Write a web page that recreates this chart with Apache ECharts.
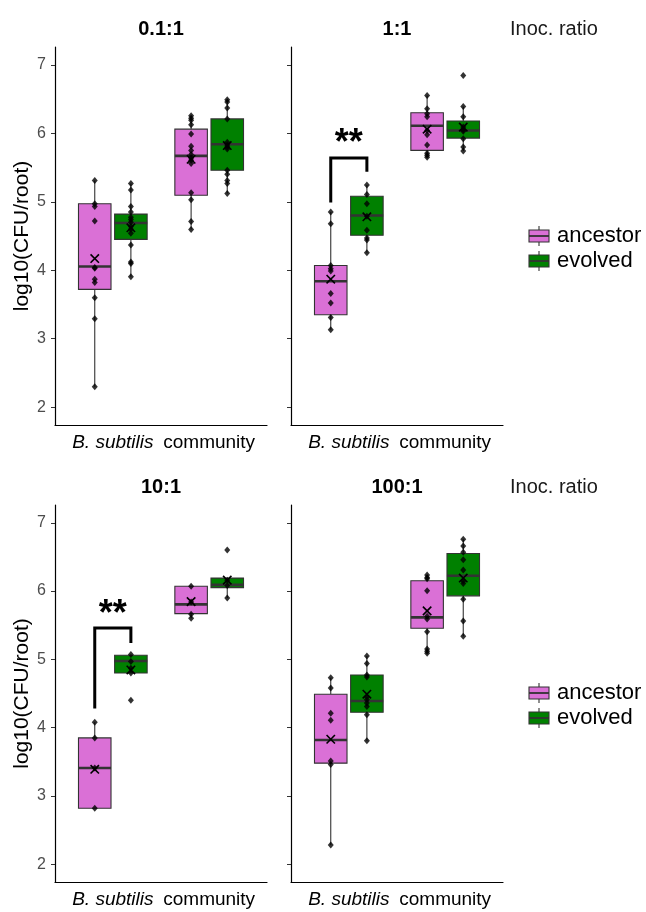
<!DOCTYPE html>
<html><head><meta charset="utf-8">
<script src="https://cdn.jsdelivr.net/npm/echarts@6/dist/echarts.min.js"></script>
<style>html,body{margin:0;padding:0;background:#fff}#c{width:646px;height:912px}</style>
</head><body><div id="c"></div>
<script>
const categories = ['B. subtilis', 'community'];
const groups = ['ancestor', 'evolved'];
const panelTitles = ['0.1:1', '1:1', '10:1', '100:1'];
const facetLabel = 'Inoc. ratio';
const yTicks = [2, 3, 4, 5, 6, 7];
const yTitle = 'log10(CFU/root)';

// box stats: [category, group, lowerWhisker, q1, median, q3, upperWhisker]
const box_0_1 = [
  [0, 0, 2.30, 3.72, 4.055, 4.97, 5.31],
  [0, 1, 3.905, 4.45, 4.69, 4.82, 5.265],
  [1, 0, 4.595, 5.095, 5.67, 6.06, 6.257],
  [1, 1, 5.12, 5.46, 5.84, 6.21, 6.49]
];
const box_1 = [
  [0, 0, 3.13, 3.35, 3.84, 4.07, 4.85],
  [0, 1, 4.255, 4.51, 4.80, 5.08, 5.246],
  [1, 0, 5.65, 5.75, 6.11, 6.30, 6.553],
  [1, 1, 5.74, 5.93, 6.04, 6.18, 6.39]
];
const box_10 = [
  [0, 0, 2.82, 2.82, 3.41, 3.85, 4.08],
  [0, 1, 4.80, 4.80, 4.975, 5.06, 5.07],
  [1, 0, 5.60, 5.67, 5.805, 6.07, 6.07],
  [1, 1, 5.90, 6.05, 6.09, 6.19, 6.19]
];
const box_100 = [
  [0, 0, 2.28, 3.48, 3.82, 4.49, 4.73],
  [0, 1, 3.81, 4.225, 4.39, 4.77, 5.05],
  [1, 0, 5.09, 5.455, 5.615, 6.15, 6.234],
  [1, 1, 5.34, 5.93, 6.225, 6.55, 6.757]
];

// means: [category, group, mean]
const mean_0_1 = [[0, 0, 4.17], [0, 1, 4.62], [1, 0, 5.62], [1, 1, 5.82]];
const mean_1 = [[0, 0, 3.87], [0, 1, 4.78], [1, 0, 6.06], [1, 1, 6.09]];
const mean_10 = [[0, 0, 3.39], [0, 1, 4.845], [1, 0, 5.845], [1, 1, 6.16]];
const mean_100 = [[0, 0, 3.83], [0, 1, 4.49], [1, 0, 5.71], [1, 1, 6.19]];

// individual replicates: [category, group, value]
const pts_0_1 = [
  [0,0,5.31],[0,0,4.97],[0,0,4.93],[0,0,4.72],[0,0,4.04],[0,0,4.03],[0,0,3.87],[0,0,3.82],[0,0,3.60],[0,0,3.29],[0,0,2.30],
  [0,1,5.265],[0,1,5.17],[0,1,4.93],[0,1,4.85],[0,1,4.775],[0,1,4.74],[0,1,4.70],[0,1,4.64],[0,1,4.60],[0,1,4.54],[0,1,4.37],[0,1,4.12],[0,1,4.10],[0,1,3.905],
  [1,0,6.257],[1,0,6.22],[1,0,6.19],[1,0,6.125],[1,0,5.99],[1,0,5.81],[1,0,5.75],[1,0,5.69],[1,0,5.64],[1,0,5.605],[1,0,5.56],[1,0,5.13],[1,0,5.03],[1,0,4.71],[1,0,4.595],
  [1,1,6.49],[1,1,6.456],[1,1,6.37],[1,1,6.21],[1,1,5.87],[1,1,5.83],[1,1,5.80],[1,1,5.77],[1,1,5.46],[1,1,5.40],[1,1,5.31],[1,1,5.265],[1,1,5.12]
];
const pts_1 = [
  [0,0,4.85],[0,0,4.68],[0,0,4.07],[0,0,4.02],[0,0,3.99],[0,0,3.66],[0,0,3.52],[0,0,3.31],[0,0,3.13],
  [0,1,5.246],[0,1,5.105],[0,1,4.97],[0,1,4.79],[0,1,4.585],[0,1,4.47],[0,1,4.44],[0,1,4.255],
  [1,0,6.553],[1,0,6.36],[1,0,6.286],[1,0,6.24],[1,0,6.04],[1,0,5.98],[1,0,5.83],[1,0,5.71],[1,0,5.68],[1,0,5.65],
  [1,1,6.845],[1,1,6.39],[1,1,6.24],[1,1,6.09],[1,1,6.05],[1,1,6.03],[1,1,5.92],[1,1,5.80],[1,1,5.74]
];
const pts_10 = [
  [0,0,4.08],[0,0,3.85],[0,0,3.41],[0,0,2.82],
  [0,1,5.07],[0,1,4.97],[0,1,4.87],[0,1,4.80],[0,1,4.40],
  [1,0,6.07],[1,0,5.84],[1,0,5.66],[1,0,5.60],
  [1,1,6.60],[1,1,6.16],[1,1,6.08],[1,1,5.90]
];
const pts_100 = [
  [0,0,4.73],[0,0,4.58],[0,0,4.21],[0,0,4.11],[0,0,3.51],[0,0,3.46],[0,0,2.28],
  [0,1,5.05],[0,1,4.94],[0,1,4.77],[0,1,4.74],[0,1,4.45],[0,1,4.41],[0,1,4.36],[0,1,4.31],[0,1,4.19],[0,1,3.81],
  [1,0,6.234],[1,0,6.20],[1,0,6.18],[1,0,6.005],[1,0,5.63],[1,0,5.59],[1,0,5.405],[1,0,5.15],[1,0,5.12],[1,0,5.09],
  [1,1,6.757],[1,1,6.66],[1,1,6.57],[1,1,6.46],[1,1,6.31],[1,1,6.146],[1,1,6.11],[1,1,5.88],[1,1,5.56],[1,1,5.34]
];

// significance: [category, leftFoot, top, rightFoot, labelY, label]
const sig_1 = [[0, 4.99, 5.64, 5.44, 5.84, '**']];
const sig_10 = [[0, 4.28, 5.46, 5.24, 5.65, '**']];

const panelBoxes = [box_0_1, box_1, box_10, box_100];
const panelMeans = [mean_0_1, mean_1, mean_10, mean_100];
const panelPts = [pts_0_1, pts_1, pts_10, pts_100];
const panelSig = [[], sig_1, sig_10, []];

// ---------- styling ----------
const FONT = 'Liberation Sans, Arial, sans-serif';
const colors = ['#DA70D6', '#008000'];
const DODGE = 0.1875, BOX_W = 0.3375;
const gridPos = [
  {left: 55, top: 47, width: 212, height: 378},
  {left: 291, top: 47, width: 212, height: 378},
  {left: 55, top: 505, width: 212, height: 377},
  {left: 291, top: 505, width: 212, height: 377}
];
const xPos = (c, g) => c + 1 + (g === 0 ? -DODGE : DODGE);

function renderBox(params, api) {
  const x = api.value(0);
  const lo = api.coord([x, api.value(1)]), q1 = api.coord([x, api.value(2)]);
  const md = api.coord([x, api.value(3)]), q3 = api.coord([x, api.value(4)]);
  const hi = api.coord([x, api.value(5)]);
  const g = api.value(6);
  const w = api.size([BOX_W, 0])[0];
  const cx = lo[0];
  const ln = {stroke: '#333', lineWidth: 1.1};
  return {type: 'group', children: [
    {type: 'line', shape: {x1: cx, y1: hi[1], x2: cx, y2: q3[1]}, style: ln},
    {type: 'line', shape: {x1: cx, y1: q1[1], x2: cx, y2: lo[1]}, style: ln},
    {type: 'rect', shape: {x: cx - w / 2, y: q3[1], width: w, height: q1[1] - q3[1]},
     style: {fill: colors[g], stroke: '#333', lineWidth: 1.1}},
    {type: 'line', shape: {x1: cx - w / 2, y1: md[1], x2: cx + w / 2, y2: md[1]},
     style: {stroke: '#333', lineWidth: 2.6}}
  ]};
}
function renderMean(params, api) {
  const p = api.coord([api.value(0), api.value(1)]);
  const s = 4.2;
  const st = {stroke: '#000', lineWidth: 1.6};
  return {type: 'group', children: [
    {type: 'line', shape: {x1: p[0] - s, y1: p[1] - s, x2: p[0] + s, y2: p[1] + s}, style: st},
    {type: 'line', shape: {x1: p[0] - s, y1: p[1] + s, x2: p[0] + s, y2: p[1] - s}, style: st}
  ]};
}
function renderSig(params, api) {
  const c = api.value(0);
  const xl = xPos(c, 0), xr = xPos(c, 1);
  const a = api.coord([xl, api.value(1)]), b = api.coord([xl, api.value(2)]);
  const d = api.coord([xr, api.value(2)]), e = api.coord([xr, api.value(3)]);
  const t = api.coord([(xl + xr) / 2, api.value(4)]);
  return {type: 'group', children: [
    {type: 'polyline', shape: {points: [a, b, d, e]},
     style: {stroke: '#000', lineWidth: 3, fill: null, lineJoin: 'miter'}},
    {type: 'text', x: t[0], y: t[1],
     style: {text: api.value(5), fill: '#000', font: 'bold 36px ' + FONT, align: 'center', verticalAlign: 'middle'}}
  ]};
}

const grid = [], xAxis = [], yAxis = [], series = [];
for (let i = 0; i < 4; i++) {
  grid.push(gridPos[i]);
  xAxis.push({
    gridIndex: i, type: 'value', min: 0.4, max: 2.6,
    axisLine: {show: true, onZero: false, lineStyle: {color: '#000', width: 1.2}},
    axisTick: {show: false}, splitLine: {show: false},
    axisLabel: {
      customValues: [1, 2], margin: 8, fontSize: 19, color: '#000', fontFamily: FONT,
      formatter: v => v === 1 ? '{i|' + categories[0] + '}' : categories[1],
      rich: {i: {fontStyle: 'italic', fontSize: 19, color: '#000', fontFamily: FONT}}
    }
  });
  yAxis.push({
    gridIndex: i, type: 'value', min: 1.74, max: 7.26,
    axisLine: {show: true, lineStyle: {color: '#000', width: 1.2}},
    axisTick: {show: true, customValues: yTicks, length: 4, lineStyle: {color: '#333', width: 1}},
    axisLabel: {show: i % 2 === 0, customValues: yTicks, fontSize: 16, color: '#4d4d4d', margin: 9, fontFamily: FONT},
    splitLine: {show: false},
    name: i % 2 === 0 ? yTitle : '', nameLocation: 'middle', nameGap: 19,
    nameTextStyle: {fontSize: 21, color: '#000', fontFamily: FONT}
  });
  series.push({
    type: 'custom', xAxisIndex: i, yAxisIndex: i, z: 2, renderItem: renderBox,
    data: panelBoxes[i].map(r => [xPos(r[0], r[1]), r[2], r[3], r[4], r[5], r[6], r[1]])
  });
  series.push({
    type: 'scatter', xAxisIndex: i, yAxisIndex: i, z: 3, symbol: 'diamond', symbolSize: [6, 7],
    itemStyle: {color: '#000'}, silent: true,
    data: panelPts[i].map(r => [xPos(r[0], r[1]), r[2]])
  });
  series.push({
    type: 'custom', xAxisIndex: i, yAxisIndex: i, z: 4, renderItem: renderMean,
    data: panelMeans[i].map(r => [xPos(r[0], r[1]), r[2]])
  });
  if (panelSig[i].length) {
    series.push({
      type: 'custom', xAxisIndex: i, yAxisIndex: i, z: 5, renderItem: renderSig,
      data: panelSig[i].map(r => r.slice())
    });
  }
}

const graphic = [];
// facet titles
gridPos.forEach((g, i) => {
  graphic.push({type: 'text', x: g.left + g.width / 2, y: g.top - 18,
    style: {text: panelTitles[i], font: 'bold 20px ' + FONT, fill: '#000', align: 'center', verticalAlign: 'middle'}});
});
[gridPos[1], gridPos[3]].forEach(g => {
  graphic.push({type: 'text', x: 510, y: g.top - 18,
    style: {text: facetLabel, font: '20px ' + FONT, fill: '#1a1a1a', align: 'left', verticalAlign: 'middle'}});
});
// legends
[[236, 261], [693, 718]].forEach(ys => {
  groups.forEach((name, gi) => {
    const cy = ys[gi];
    graphic.push({type: 'line', shape: {x1: 539, y1: cy - 10, x2: 539, y2: cy + 10}, style: {stroke: '#333', lineWidth: 1.1}});
    graphic.push({type: 'rect', shape: {x: 529, y: cy - 6, width: 20, height: 12}, style: {fill: colors[gi], stroke: '#333', lineWidth: 1.1}});
    graphic.push({type: 'line', shape: {x1: 529, y1: cy, x2: 549, y2: cy}, style: {stroke: '#333', lineWidth: 1.8}});
    graphic.push({type: 'text', x: 557, y: cy,
      style: {text: name, font: '22px ' + FONT, fill: '#000', align: 'left', verticalAlign: 'middle'}});
  });
});

const chart = echarts.init(document.getElementById('c'), null, {renderer: 'canvas'});
chart.setOption({animation: false, backgroundColor: '#fff', grid, xAxis, yAxis, series, graphic});
</script></body></html>
